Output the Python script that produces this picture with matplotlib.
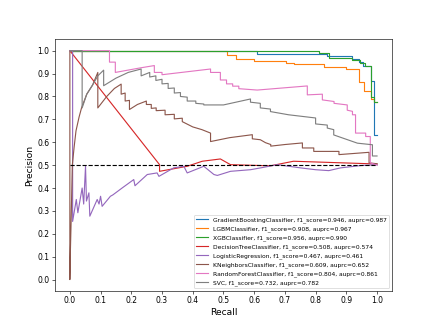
import numpy as np
import matplotlib.pyplot as plt

# ── curve data (recall, precision) ────────────────────────────────────
gb_recall = [0, 0.61, 0.61, 0.838, 0.838, 0.92, 0.92, 0.94, 0.94, 0.955, 0.955, 0.979, 0.979, 0.99, 0.99, 1.0]
gb_prec = [1.0, 1.0, 0.984, 0.984, 0.978, 0.978, 0.963, 0.963, 0.951, 0.951, 0.934, 0.934, 0.869, 0.869, 0.633, 0.633]

lgbm_recall = [0, 0.51, 0.51, 0.54, 0.54, 0.60, 0.60, 0.702, 0.702, 0.73, 0.73, 0.827, 0.827, 0.90, 0.90, 0.941, 0.941, 0.957, 0.957, 0.979, 0.979, 0.99, 0.99, 1.0]
lgbm_prec = [1.0, 1.0, 0.98, 0.98, 0.963, 0.963, 0.956, 0.956, 0.948, 0.948, 0.941, 0.941, 0.927, 0.927, 0.922, 0.922, 0.862, 0.862, 0.823, 0.823, 0.789, 0.789, 0.775, 0.775]

xgb_recall = [0, 0.81, 0.81, 0.843, 0.843, 0.92, 0.92, 0.945, 0.945, 0.96, 0.96, 0.979, 0.979, 0.99, 0.99, 1.0]
xgb_prec = [1.0, 1.0, 0.99, 0.99, 0.967, 0.967, 0.958, 0.958, 0.948, 0.948, 0.934, 0.934, 0.797, 0.797, 0.775, 0.775]

dt_recall = [0, 0.292, 0.292, 0.382, 0.431, 0.49, 0.523, 0.653, 0.728, 1.0]
dt_prec = [1.0, 0.502, 0.473, 0.495, 0.517, 0.527, 0.502, 0.497, 0.517, 0.505]

lr_recall = [0, 0.009, 0.009, 0.021, 0.026, 0.04, 0.045, 0.051, 0.054, 0.062, 0.065, 0.089, 0.095, 0.10, 0.105,
             0.132, 0.14, 0.17, 0.208, 0.212, 0.252, 0.284, 0.29, 0.338, 0.371, 0.382, 0.436, 0.469, 0.48,
             0.523, 0.588, 0.621, 0.675, 0.751, 0.80, 0.843, 0.881, 0.946, 1.0]
lr_prec = [1.0, 1.0, 0.254, 0.35, 0.292, 0.40, 0.33, 0.495, 0.343, 0.379, 0.277, 0.35, 0.33, 0.364, 0.32,
           0.364, 0.37, 0.40, 0.437, 0.41, 0.459, 0.466, 0.451, 0.488, 0.495, 0.466, 0.495, 0.459, 0.455,
           0.473, 0.48, 0.488, 0.502, 0.488, 0.48, 0.476, 0.488, 0.498, 0.502]

knn_recall = [0, 0, 0.002, 0.004, 0.008, 0.014, 0.02, 0.03, 0.038, 0.055, 0.074, 0.091, 0.091, 0.12, 0.145,
              0.167, 0.167, 0.18, 0.18, 0.194, 0.194, 0.22, 0.249, 0.249, 0.265, 0.265, 0.281, 0.281, 0.31,
              0.31, 0.34, 0.34, 0.366, 0.366, 0.40, 0.43, 0.458, 0.458, 0.52, 0.594, 0.594, 0.62, 0.637,
              0.654, 0.654, 0.70, 0.757, 0.757, 0.794, 0.794, 0.876, 0.876, 0.974, 0.974, 1.0]
knn_prec = [1.0, 0.0, 0.14, 0.25, 0.5, 0.58, 0.65, 0.71, 0.75, 0.81, 0.85, 0.905, 0.75, 0.80, 0.835,
            0.854, 0.81, 0.815, 0.78, 0.783, 0.743, 0.765, 0.78, 0.765, 0.765, 0.748, 0.75, 0.738, 0.74,
            0.72, 0.722, 0.702, 0.705, 0.69, 0.667, 0.655, 0.64, 0.603, 0.62, 0.633, 0.615, 0.611, 0.598,
            0.59, 0.583, 0.59, 0.597, 0.575, 0.575, 0.56, 0.56, 0.546, 0.556, 0.51, 0.506]

rf_recall = [0, 0.129, 0.129, 0.148, 0.148, 0.23, 0.275, 0.275, 0.30, 0.30, 0.458, 0.458, 0.49, 0.49, 0.51,
             0.51, 0.53, 0.53, 0.55, 0.55, 0.61, 0.773, 0.773, 0.822, 0.822, 0.86, 0.86, 0.903, 0.903,
             0.92, 0.92, 0.93, 0.93, 0.963, 0.963, 0.978, 0.978, 1.0]
rf_prec = [1.0, 1.0, 0.95, 0.95, 0.905, 0.925, 0.935, 0.905, 0.905, 0.895, 0.92, 0.905, 0.905, 0.872, 0.872,
           0.855, 0.855, 0.845, 0.845, 0.834, 0.828, 0.846, 0.807, 0.81, 0.785, 0.778, 0.77, 0.763, 0.74,
           0.735, 0.72, 0.72, 0.64, 0.64, 0.625, 0.625, 0.51, 0.50]

svc_recall = [0, 0.04, 0.04, 0.055, 0.074, 0.091, 0.11, 0.11, 0.15, 0.19, 0.232, 0.232, 0.26, 0.26, 0.28,
              0.28, 0.30, 0.30, 0.32, 0.32, 0.34, 0.34, 0.36, 0.36, 0.382, 0.382, 0.41, 0.41, 0.436, 0.436,
              0.50, 0.588, 0.588, 0.62, 0.62, 0.653, 0.653, 0.712, 0.80, 0.80, 0.838, 0.838, 0.859, 0.859,
              0.936, 0.985, 0.985, 1.0]
svc_prec = [1.0, 1.0, 0.75, 0.81, 0.85, 0.89, 0.915, 0.847, 0.88, 0.905, 0.92, 0.89, 0.905, 0.885, 0.89,
            0.87, 0.875, 0.855, 0.857, 0.835, 0.837, 0.815, 0.817, 0.80, 0.797, 0.78, 0.78, 0.77, 0.767, 0.763,
            0.763, 0.789, 0.775, 0.77, 0.75, 0.745, 0.734, 0.72, 0.706, 0.68, 0.675, 0.662, 0.655, 0.632,
            0.596, 0.589, 0.54, 0.54]

baseline_x = [0, 1]
baseline_y = [0.5, 0.5]

labels = [
    "GradientBoostingClassifier, f1_score=0.946, auprc=0.987",
    "LGBMClassifier, f1_score=0.908, auprc=0.967",
    "XGBClassifier, f1_score=0.956, auprc=0.990",
    "DecisionTreeClassifier, f1_score=0.508, auprc=0.574",
    "LogisticRegression, f1_score=0.467, auprc=0.461",
    "KNeighborsClassifier, f1_score=0.609, auprc=0.652",
    "RandomForestClassifier, f1_score=0.804, auprc=0.861",
    "SVC, f1_score=0.732, auprc=0.782",
]

curves = [
    (gb_recall, gb_prec),
    (lgbm_recall, lgbm_prec),
    (xgb_recall, xgb_prec),
    (dt_recall, dt_prec),
    (lr_recall, lr_prec),
    (knn_recall, knn_prec),
    (rf_recall, rf_prec),
    (svc_recall, svc_prec),
]

fig, ax = plt.subplots(figsize=(8, 6), dpi=54.5)

for (rec, prec), label in zip(curves, labels):
    ax.plot(rec, prec, label=label)

ax.plot(baseline_x, baseline_y, "k--")

ax.set_xticks(np.arange(0, 1.01, 0.1))
ax.set_yticks(np.arange(0, 1.01, 0.1))
ax.set_xlabel("Recall", fontsize=12)
ax.set_ylabel("Precision", fontsize=12)
ax.legend(loc="lower right", fontsize=8)

fig.savefig("out.png", dpi=54.5)
